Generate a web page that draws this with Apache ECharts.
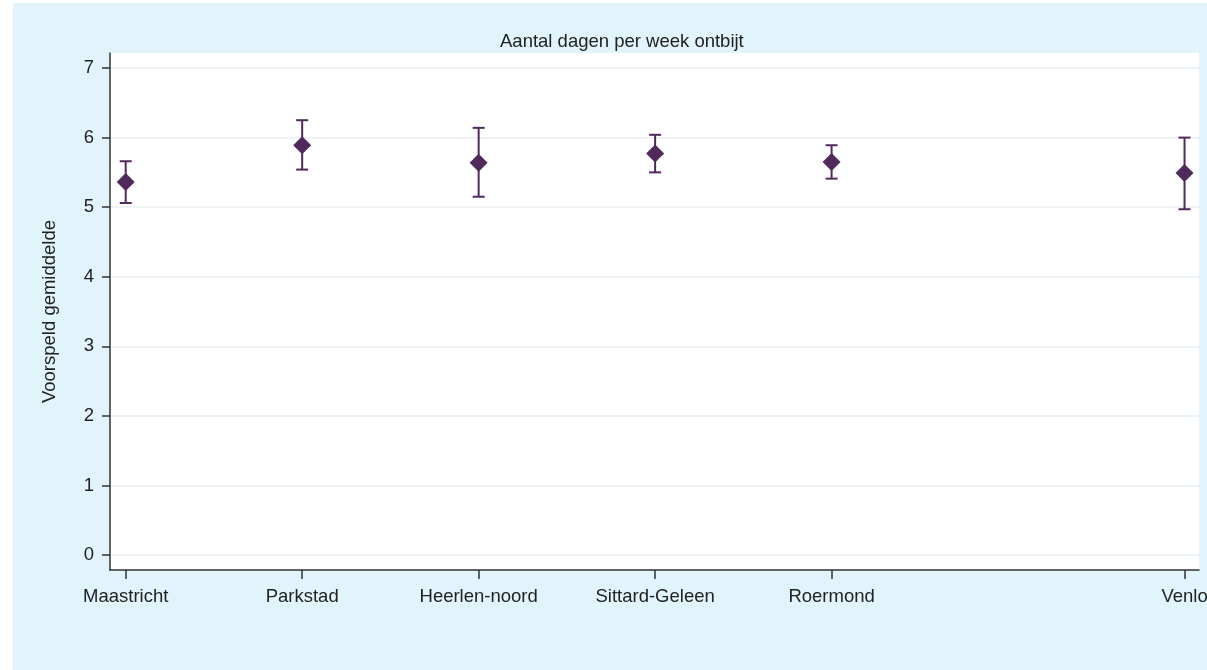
<!DOCTYPE html>
<html>
<head>
<meta charset="utf-8">
<script src="https://cdn.jsdelivr.net/npm/echarts@6/dist/echarts.min.js"></script>
<style>
html,body{margin:0;padding:0;background:#ffffff;overflow:hidden;}
#chart{width:1207px;height:670px;}
</style>
</head>
<body>
<div id="chart"></div>
<script>
const categories = ['Maastricht', 'Parkstad', 'Heerlen-noord', 'Sittard-Geleen', 'Roermond', 'Venlo'];
const xPositions = [1, 2, 3, 4, 5, 7];
const means = [5.36, 5.89, 5.64, 5.77, 5.65, 5.49];
const lower = [5.06, 5.54, 5.15, 5.50, 5.41, 4.97];
const upper = [5.66, 6.25, 6.14, 6.04, 5.89, 6.00];
const yTicks = [0, 1, 2, 3, 4, 5, 6, 7];

const color = '#512a5c';
const font = 'Liberation Sans, Arial, sans-serif';

const chart = echarts.init(document.getElementById('chart'));
const pointData = xPositions.map((x, i) => [x, means[i]]);
const barData = xPositions.map((x, i) => [x, lower[i], upper[i]]);

chart.setOption({
  animation: false,
  backgroundColor: '#ffffff',
  graphic: [{
    type: 'rect', z: -10, silent: true,
    shape: {x: 13, y: 3, width: 1194, height: 667},
    style: {fill: '#e1f3fb'}
  }],
  title: {
    text: 'Aantal dagen per week ontbijt',
    left: 495, top: 27,
    textStyle: {fontFamily: font, fontSize: 18.5, fontWeight: 'normal', color: '#222'}
  },
  grid: {
    left: 110, top: 53, right: 8, bottom: 100,
    outerBoundsMode: 'none', containLabel: false,
    show: true, backgroundColor: '#ffffff', borderWidth: 0
  },
  xAxis: {
    type: 'value', min: 0.911, max: 7.082,
    axisLine: {show: true, onZero: false, lineStyle: {color: '#333', width: 1.5}},
    axisTick: {show: true, length: 9, customValues: xPositions, lineStyle: {color: '#333', width: 1.5}},
    axisLabel: {
      customValues: xPositions, margin: 17,
      fontFamily: font, fontSize: 18.5, color: '#222',
      formatter: v => categories[xPositions.indexOf(v)] || ''
    },
    splitLine: {show: false}
  },
  yAxis: {
    type: 'value', min: -0.216, max: 7.216,
    name: 'Voorspeld gemiddelde', nameLocation: 'middle', nameGap: 51,
    nameTextStyle: {fontFamily: font, fontSize: 18.5, color: '#222'},
    axisLine: {show: true, onZero: false, lineStyle: {color: '#333', width: 1.5}},
    axisTick: {show: true, length: 8, customValues: yTicks, lineStyle: {color: '#333', width: 1.5}},
    axisLabel: {customValues: yTicks, margin: 16, fontFamily: font, fontSize: 18.5, color: '#222'},
    splitLine: {show: true, lineStyle: {color: '#e6eef3', width: 1.5}}
  },
  series: [{
    type: 'custom',
    data: barData,
    renderItem: function (params, api) {
      const x = api.value(0);
      const lo = api.coord([x, api.value(1)]);
      const hi = api.coord([x, api.value(2)]);
      const hw = 6;
      const st = {stroke: color, lineWidth: 2};
      return {
        type: 'group',
        children: [
          {type: 'line', shape: {x1: lo[0], y1: lo[1], x2: hi[0], y2: hi[1]}, style: st},
          {type: 'line', shape: {x1: lo[0] - hw, y1: lo[1], x2: lo[0] + hw, y2: lo[1]}, style: st},
          {type: 'line', shape: {x1: hi[0] - hw, y1: hi[1], x2: hi[0] + hw, y2: hi[1]}, style: st}
        ]
      };
    },
    z: 2
  }, {
    type: 'scatter',
    data: pointData,
    symbol: 'diamond',
    symbolSize: 18,
    itemStyle: {color: color, opacity: 1},
    z: 3
  }]
});
</script>
</body>
</html>
